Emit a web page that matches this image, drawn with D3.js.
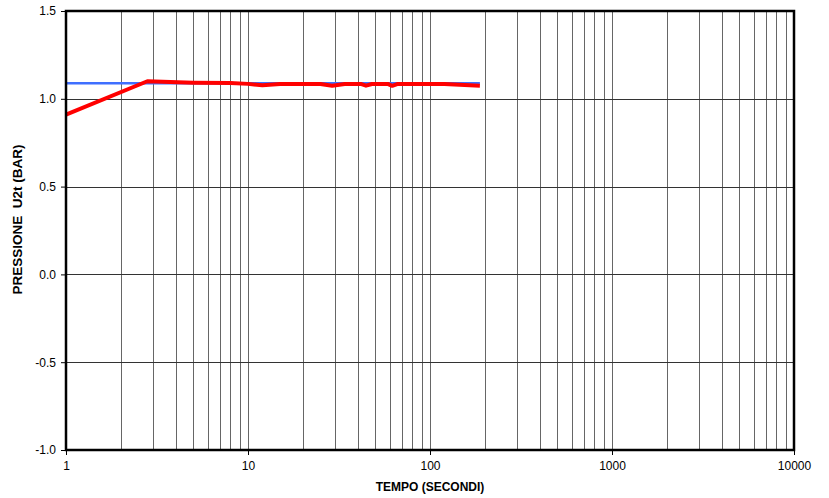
<!DOCTYPE html>
<html>
<head>
<meta charset="utf-8">
<script src="https://cdn.jsdelivr.net/npm/d3@7"></script>
<style>
  body { margin: 0; background: #fff; }
  text { font-family: "Liberation Sans", Arial, sans-serif; }
</style>
</head>
<body>
<div class="myChart"></div>
<script>
var svgWidth = 829;
var svgHeight = 498;

var chartMargin = { top: 11, right: 35, bottom: 48, left: 66 };
var chartWidth = svgWidth - chartMargin.left - chartMargin.right;
var chartHeight = svgHeight - chartMargin.top - chartMargin.bottom;

// data
var yTicks = [-1.0, -0.5, 0.0, 0.5, 1.0, 1.5];
var xTicks = [1, 10, 100, 1000, 10000];

var blueTime = [1, 188];
var bluePress = [1.089, 1.089];

var redTime = [1, 2.8, 5, 8, 10, 12, 15, 25, 29, 34, 42, 44.5, 48, 59, 62, 66, 120, 188];
var redPress = [0.91, 1.10, 1.092, 1.09, 1.085, 1.077, 1.084, 1.084, 1.074, 1.084, 1.084, 1.075, 1.084, 1.084, 1.074, 1.084, 1.084, 1.075];

var svg = d3.select(".myChart")
  .append("svg")
  .attr("width", svgWidth)
  .attr("height", svgHeight)
  .append("g")
  .attr("transform", "translate(" + chartMargin.left + "," + chartMargin.top + ")");

var chart = svg.append("g");

var xLogScale = d3.scaleLog().domain([1, 10000]).range([0, chartWidth]);
var yLinearScale = d3.scaleLinear().domain([-1, 1.5]).range([chartHeight, 0]);

// vertical grid: 1..9 for every decade
var minor = [];
for (var d = 1; d < 10000; d *= 10) {
  for (var k = 2; k <= 9; k++) minor.push(d * k);
}
minor = minor.concat([10, 100, 1000]);

chart.append("g").selectAll("line")
  .data(minor)
  .enter().append("line")
  .attr("x1", function(v) { return Math.round(xLogScale(v)) + 0.5; })
  .attr("x2", function(v) { return Math.round(xLogScale(v)) + 0.5; })
  .attr("y1", 0)
  .attr("y2", chartHeight)
  .attr("stroke", "#666")
  .attr("stroke-width", 1);

chart.append("g").selectAll("line")
  .data(yTicks.slice(1, -1))
  .enter().append("line")
  .attr("x1", 0)
  .attr("x2", chartWidth)
  .attr("y1", function(v) { return Math.round(yLinearScale(v)) + 0.5; })
  .attr("y2", function(v) { return Math.round(yLinearScale(v)) + 0.5; })
  .attr("stroke", "#333")
  .attr("stroke-width", 1);

var line = d3.line()
  .x(function(p) { return xLogScale(p[0]); })
  .y(function(p) { return yLinearScale(p[1]); });

chart.append("path")
  .datum(d3.zip(blueTime, bluePress))
  .attr("d", line)
  .attr("fill", "none")
  .attr("stroke", "#3f6fff")
  .attr("stroke-width", 2.5);

chart.append("path")
  .datum(d3.zip(redTime, redPress))
  .attr("d", line)
  .attr("fill", "none")
  .attr("stroke", "#ff0000")
  .attr("stroke-width", 4)
  .attr("stroke-linejoin", "round");

// frame
chart.append("rect")
  .attr("x", 0)
  .attr("y", 0)
  .attr("width", chartWidth)
  .attr("height", chartHeight)
  .attr("fill", "none")
  .attr("stroke", "#000")
  .attr("stroke-width", 2.5);

var bottomAxis = d3.axisBottom(xLogScale)
  .tickValues(xTicks)
  .tickFormat(d3.format("d"))
  .tickSize(5)
  .tickPadding(6);
var leftAxis = d3.axisLeft(yLinearScale)
  .tickValues(yTicks)
  .tickFormat(function(v) { return v.toFixed(1); })
  .tickSize(5)
  .tickPadding(5);

var gx = chart.append("g")
  .attr("transform", `translate(0, ${chartHeight})`)
  .call(bottomAxis);
var gy = chart.append("g")
  .call(leftAxis);

[gx, gy].forEach(function(g) {
  g.select(".domain").remove();
  g.selectAll("text").attr("font-size", "12px").attr("fill", "#000")
    .style("font-family", "'Liberation Sans', Arial, sans-serif");
  g.selectAll("line").attr("stroke", "#000");
});

chart.append("text")
  .attr("transform", "rotate(-90)")
  .attr("x", -chartHeight / 2 + 11)
  .attr("y", -44)
  .style("text-anchor", "middle")
  .attr("font-size", "13.5px")
  .attr("font-weight", "bold")
  .style("white-space", "pre")
  .text("PRESSIONE  U2t (BAR)");

chart.append("text")
  .attr("x", 364)
  .attr("y", chartHeight + 41)
  .style("text-anchor", "middle")
  .attr("font-size", "12px")
  .attr("font-weight", "bold")
  .text("TEMPO (SECONDI)");
</script>
</body>
</html>
